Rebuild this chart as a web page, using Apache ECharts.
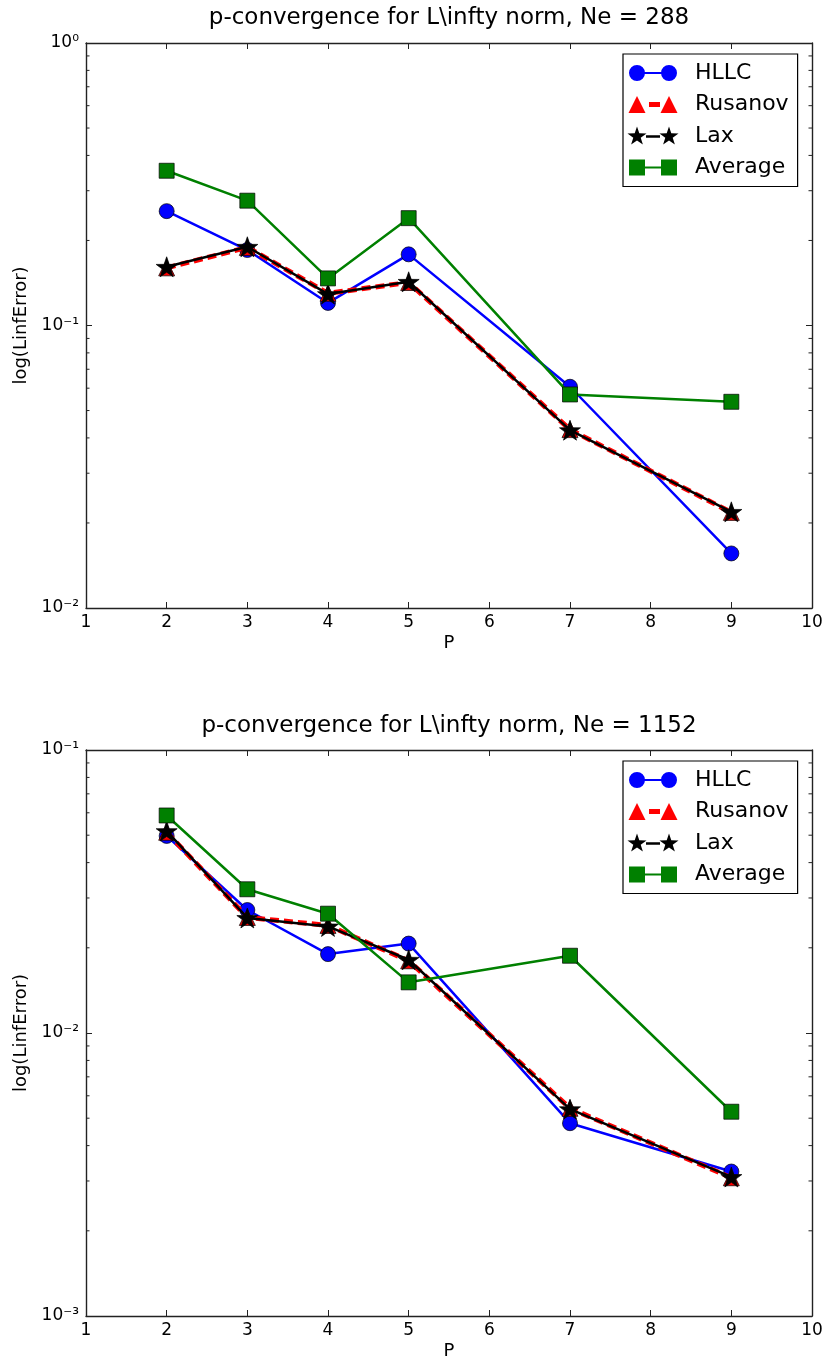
<!DOCTYPE html>
<html><head><meta charset="utf-8">
<script src="https://cdn.jsdelivr.net/npm/echarts@6/dist/echarts.min.js"></script>
<style>html,body{margin:0;padding:0;background:#fff}#c{width:825px;height:1360px}</style>
</head><body><div id="c"></div>
<script>
// ---------------- data ----------------
const P = [2, 3, 4, 5, 7, 9];
const seriesNames = ['HLLC', 'Rusanov', 'Lax', 'Average'];
const titles = ['p-convergence for L\\infty norm, Ne = 288', 'p-convergence for L\\infty norm, Ne = 1152'];
const xLabel = 'P';
const yLabel = 'log(LinfError)';
const xRange = [1, 10];

const hllc288    = [0.254, 0.185, 0.1202, 0.1786, 0.0607, 0.0156];
const rusanov288 = [0.160, 0.189, 0.1300, 0.1420, 0.0428, 0.0218];
const lax288     = [0.1614, 0.190, 0.1292, 0.1428, 0.0426, 0.0219];
const average288 = [0.353, 0.2766, 0.1468, 0.2399, 0.0570, 0.0537];

const hllc1152    = [0.0497, 0.0272, 0.0190, 0.0207, 0.0048, 0.00324];
const rusanov1152 = [0.0512, 0.0256, 0.0240, 0.0180, 0.00542, 0.00308];
const lax1152     = [0.0517, 0.0255, 0.0238, 0.01815, 0.00538, 0.0031];
const average1152 = [0.0587, 0.0322, 0.0264, 0.0151, 0.01875, 0.00527];

const yRange288 = [0.01, 1];
const yRange1152 = [0.001, 0.1];
const minorTicks288 = [0.02,0.03,0.04,0.05,0.06,0.07,0.08,0.09,0.2,0.3,0.4,0.5,0.6,0.7,0.8,0.9];
const minorTicks1152 = [0.002,0.003,0.004,0.005,0.006,0.007,0.008,0.009,0.02,0.03,0.04,0.05,0.06,0.07,0.08,0.09];

// ---------------- styles ----------------
const FONT = 'DejaVu Sans';
const AX = '#222';
function starPath(cx, cy, R, r) {
  let s = '';
  for (let i = 0; i < 10; i++) {
    const a = -Math.PI / 2 + i * Math.PI / 5;
    const rad = i % 2 === 0 ? R : r;
    const x = (cx + rad * Math.cos(a)).toFixed(3), y = (cy + rad * Math.sin(a)).toFixed(3);
    s += (i === 0 ? 'M' : 'L') + x + ' ' + y + ' ';
  }
  return s + 'Z ';
}
const SUP = { '0': '\u2070', '1': '\u00b9', '2': '\u00b2', '3': '\u00b3', '-': '\u207b' };
const supText = s => String(s).split('').map(c => SUP[c] || c).join('');
const specks = 'M0 0 L0.01 0 L0 0.01 Z M63 20 L62.99 20 L63 19.99 Z';
const legendIcons = {
  HLLC: 'path://M2 10 A8 8 0 1 1 18 10 A8 8 0 1 1 2 10 Z M34 10 A8 8 0 1 1 50 10 A8 8 0 1 1 34 10 Z M17.5 9 L34.5 9 L34.5 11 L17.5 11 Z ' + specks,
  Rusanov: 'path://M10 1.5 L18.5 18.5 L1.5 18.5 Z M42 1.5 L50.5 18.5 L33.5 18.5 Z M22 7.6 L33 7.6 L33 12.4 L22 12.4 Z ' + specks,
  Lax: 'path://' + starPath(10, 10.5, 10, 3.9) + starPath(42, 10.5, 10, 3.9) + 'M19 9.3 L33 9.3 L33 11.7 L19 11.7 Z ' + specks,
  Average: 'path://M2 2 L18 2 L18 18 L2 18 Z M34 2 L50 2 L50 18 L34 18 Z M17.5 9 L34.5 9 L34.5 11 L17.5 11 Z ' + specks
};
const seriesStyle = {
  HLLC:    { color: '#0000ff', symbol: 'circle', symbolSize: 15, line: { width: 2.5, type: 'solid' } },
  Rusanov: { color: '#ff0000', symbol: 'triangle', symbolSize: 16, line: { width: 5, type: [9, 5] } },
  Lax:     { color: '#000000', symbol: 'path://' + starPath(10, 10, 10, 3.9), symbolSize: 21, line: { width: 2.5, type: 'solid' } },
  Average: { color: '#008000', symbol: 'rect', symbolSize: 15, line: { width: 2.5, type: 'solid' } }
};

const panels = [
  { data: { HLLC: hllc288, Rusanov: rusanov288, Lax: lax288, Average: average288 }, yRange: yRange288, minor: minorTicks288, title: titles[0], top: 43, height: 565, legendTop: 54, titleTop: 7 },
  { data: { HLLC: hllc1152, Rusanov: rusanov1152, Lax: lax1152, Average: average1152 }, yRange: yRange1152, minor: minorTicks1152, title: titles[1], top: 750, height: 566, legendTop: 761, titleTop: 715 }
];

const option = { animation: false, backgroundColor: '#fff', title: [], grid: [], xAxis: [], yAxis: [], legend: [], series: [] };

panels.forEach((pn, gi) => {
  option.title.push({ text: pn.title, left: 449, top: pn.titleTop, textAlign: 'center', padding: 0,
    textStyle: { fontFamily: FONT, fontSize: 23, fontWeight: 'normal', color: '#000' } });
  option.grid.push({ left: 86, top: pn.top, width: 726, height: pn.height, outerBoundsMode: 'none', containLabel: false });
  const axLine = { show: true, onZero: false, lineStyle: { color: AX, width: 1.4 } };
  option.xAxis.push({ type: 'value', gridIndex: gi, position: 'bottom', min: xRange[0], max: xRange[1], interval: 1,
    axisLine: axLine, axisTick: { inside: true, length: 6, lineStyle: { color: AX, width: 1 } }, splitLine: { show: false },
    axisLabel: { margin: 6, fontFamily: FONT, fontSize: 17, color: '#000' },
    name: xLabel, nameLocation: 'middle', nameGap: 26, nameTextStyle: { fontFamily: FONT, fontSize: 18, color: '#000' } });
  option.xAxis.push({ type: 'value', gridIndex: gi, position: 'top', min: xRange[0], max: xRange[1], interval: 1,
    axisLine: axLine, axisTick: { inside: true, length: 6, lineStyle: { color: AX, width: 1 } }, splitLine: { show: false },
    axisLabel: { show: false } });
  const yFmt = v => '10' + supText(Math.round(Math.log10(v)));
  option.yAxis.push({ type: 'log', logBase: 10, gridIndex: gi, position: 'left', min: pn.yRange[0], max: pn.yRange[1],
    axisLine: axLine, axisTick: { inside: true, length: 6, lineStyle: { color: AX, width: 1 } }, splitLine: { show: false }, minorTick: { show: false },
    axisLabel: { margin: 7, fontFamily: FONT, fontSize: 17, color: '#000', formatter: yFmt },
    name: yLabel, nameLocation: 'middle', nameGap: 50, nameRotate: 90, nameTextStyle: { fontFamily: FONT, fontSize: 18, color: '#000' } });
  option.yAxis.push({ type: 'log', logBase: 10, gridIndex: gi, position: 'right', min: pn.yRange[0], max: pn.yRange[1],
    axisLine: axLine, axisTick: { inside: true, length: 6, lineStyle: { color: AX, width: 1 } }, splitLine: { show: false }, minorTick: { show: false },
    axisLabel: { show: false } });

  // minor log ticks (left & right), drawn through the axis scale
  option.series.push({ type: 'custom', name: 'minor' + gi, xAxisIndex: gi * 2, yAxisIndex: gi * 2, silent: true, clip: false, z: 5,
    data: pn.minor.map(v => [xRange[0], v]),
    encode: { x: 0, y: 1 },
    renderItem: (params, api) => {
      const v = api.value(1);
      const l = api.coord([xRange[0], v]);
      const r = api.coord([xRange[1], v]);
      return { type: 'group', children: [
        { type: 'line', shape: { x1: l[0], y1: l[1], x2: l[0] + 3.5, y2: l[1] }, style: { stroke: AX, lineWidth: 1 } },
        { type: 'line', shape: { x1: r[0], y1: r[1], x2: r[0] - 3.5, y2: r[1] }, style: { stroke: AX, lineWidth: 1 } }
      ] };
    } });

  seriesNames.forEach((nm, si) => {
    const st = seriesStyle[nm];
    option.series.push({ type: 'line', name: nm, xAxisIndex: gi * 2, yAxisIndex: gi * 2, z: 10 + si,
      data: P.map((p, i) => [p, pn.data[nm][i]]),
      symbol: st.symbol, symbolSize: st.symbolSize, symbolKeepAspect: true, showAllSymbol: true, clip: false,
      color: st.color,
      itemStyle: { color: st.color, borderColor: '#000', borderWidth: 0.7 },
      lineStyle: { color: st.color, width: st.line.width, type: st.line.type, cap: 'butt' },
      emphasis: { disabled: true } });
  });

  option.legend.push({ left: 623, top: pn.legendTop, orient: 'vertical', padding: [8, 9, 8, 4],
    itemWidth: 63, itemHeight: 20, itemGap: 9.5, symbolKeepAspect: false, selectedMode: false,
    borderColor: '#000', borderWidth: 1.2, backgroundColor: '#fff',
    itemStyle: { borderWidth: 0 },
    textStyle: { fontFamily: FONT, fontSize: 22, lineHeight: 22, color: '#000' },
    data: seriesNames.map(nm => ({ name: nm, icon: legendIcons[nm] })) });
});

const chart = echarts.init(document.getElementById('c'), null, { renderer: 'canvas' });
chart.setOption(option);
</script>
</body></html>
